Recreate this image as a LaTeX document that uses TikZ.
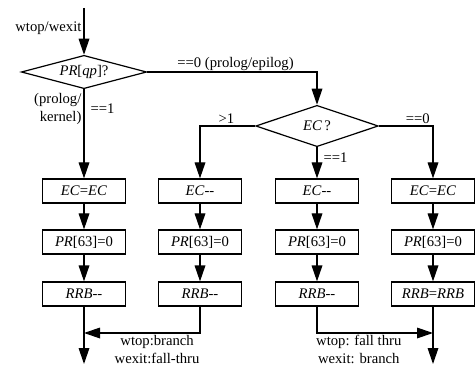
\documentclass[tikz,border=0pt]{standalone}
\usepackage{fontspec}
\setmainfont{Liberation Serif}
\usetikzlibrary{positioning}
\usetikzlibrary{shapes.geometric}
\usetikzlibrary{arrows.meta}

\begin{document}
\begin{tikzpicture}[x=0.75pt, y=-0.75pt, line width=0.9pt,
  font=\fontsize{11}{13.5}\selectfont,
  box/.style={draw, rectangle, minimum width=62pt, minimum height=18pt, inner sep=1pt},
  decide/.style={draw, diamond, inner sep=0pt, aspect=3.7},
  flow/.style={-{Triangle[length=12pt, width=8pt]}},
  lbl/.style={inner sep=1.5pt}]
\useasboundingbox (0,0) rectangle (475,367);

\coordinate (start) at (84,8);
\node (q0) at (84,72) [decide, minimum width=94pt, minimum height=25pt] {\textit{PR}[\textit{qp}]?};
\node (ec) at (317,126) [decide, minimum width=92pt, minimum height=31pt] {\textit{EC}\,?};

\node (e1) at (84,191) [box] {\textit{EC}=\textit{EC}};
\node (e2) at (200,191) [box] {\textit{EC}-{}-};
\node (e3) at (317,191) [box] {\textit{EC}-{}-};
\node (e4) at (433,191) [box] {\textit{EC}=\textit{EC}};

\node (p1) at (84,242) [box] {\textit{PR}[63]=0};
\node (p2) at (200,242) [box] {\textit{PR}[63]=0};
\node (p3) at (317,242) [box] {\textit{PR}[63]=0};
\node (p4) at (433,242) [box] {\textit{PR}[63]=0};

\node (r1) at (84,294) [box] {\textit{RRB}-{}-};
\node (r2) at (200,294) [box] {\textit{RRB}-{}-};
\node (r3) at (317,294) [box] {\textit{RRB}-{}-};
\node (r4) at (433,294) [box] {\textit{RRB}=\textit{RRB}};

\coordinate (j1) at (84,333);
\coordinate (j2) at (433,333);
\coordinate (end1) at (84,364);
\coordinate (end2) at (433,364);

\draw[flow] (start) -- node[left, lbl, pos=0.44] {wtop/wexit} (q0);
\draw[flow] (q0.south) -- node[left, lbl, align=right, pos=0.22] {(prolog/\\kernel)}
  node[right, lbl, pos=0.22, xshift=3pt] {==1} (e1);
\draw[flow] (q0.east) -| node[above, inner sep=0.5pt, pos=0.26] {==0 (prolog/epilog)} (ec.north);

\draw[flow] (ec.west) -| node[above, lbl, pos=0.26] {>1} (e2.north);
\draw[flow] (ec.south) -- node[right, lbl, pos=0.34, xshift=3pt] {==1} (e3.north);
\draw[flow] (ec.east) -| node[above, lbl, pos=0.36] {==0} (e4.north);

\draw[flow] (e1) -- (p1);
\draw[flow] (e2) -- (p2);
\draw[flow] (e3) -- (p3);
\draw[flow] (e4) -- (p4);
\draw[flow] (p1) -- (r1);
\draw[flow] (p2) -- (r2);
\draw[flow] (p3) -- (r3);
\draw[flow] (p4) -- (r4);

\draw[flow] (r2.south) |- node[below, lbl, align=center, pos=0.685] {wtop:branch\\wexit:fall-thru} (j1);
\draw[flow] (r1.south) -- (end1);
\draw[flow] (r3.south) |- node[below, lbl, align=center, pos=0.68] {wtop: fall thru\\wexit: branch} (j2);
\draw[flow] (r4.south) -- (end2);
\end{tikzpicture}
\end{document}
